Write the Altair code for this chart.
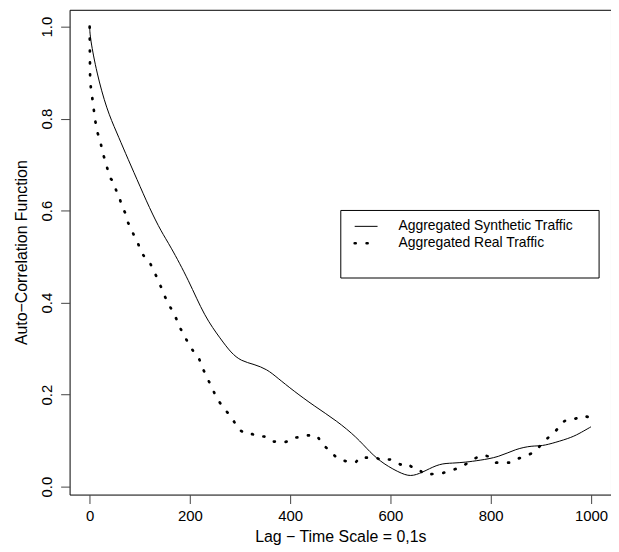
import altair as alt
import pandas as pd

# Synthetic traffic ACF (solid line)
syn_lag = [0, 1, 14, 34, 54, 71, 94, 120, 143, 160, 198, 229, 262, 282, 302, 328, 354, 374,
           407, 447, 493, 533, 559, 585, 625, 645, 671, 698, 724, 750, 777, 816, 850, 883,
           902, 929, 962, 981, 1000]
syn_acf = [1.0, 0.975, 0.90, 0.82, 0.77, 0.726, 0.669, 0.604, 0.554, 0.525, 0.448, 0.37, 0.32,
           0.291, 0.273, 0.266, 0.255, 0.237, 0.208, 0.176, 0.143, 0.107, 0.075, 0.05, 0.026,
           0.022, 0.035, 0.05, 0.051, 0.053, 0.057, 0.064, 0.082, 0.089, 0.088, 0.096, 0.107,
           0.118, 0.130]

# Real traffic ACF (dotted line)
real_lag = [0, 1, 5, 8, 11, 15, 21, 26, 30, 35, 40, 48, 54, 58, 64, 71, 77, 84, 89, 96, 102,
            112, 120, 128, 137, 153, 163, 172, 180, 190, 197, 207, 218, 226, 236, 244, 252,
            263, 275, 286, 297, 312, 325, 335, 348, 358, 366, 376, 386, 394, 405, 414, 422,
            432, 442, 449, 457, 463, 477, 486, 496, 504, 513, 521, 531, 539, 552, 562, 572,
            582, 589, 599, 610, 620, 632, 645, 657, 666, 679, 690, 706, 717, 727, 741, 755,
            770, 784, 798, 811, 826, 840, 850, 863, 877, 887, 898, 907, 917, 927, 937, 945,
            955, 963, 976, 986, 995]
real_acf = [1.0, 0.88, 0.847, 0.822, 0.797, 0.772, 0.752, 0.726, 0.712, 0.693, 0.672, 0.662,
            0.64, 0.635, 0.61, 0.595, 0.573, 0.557, 0.545, 0.53, 0.513, 0.494, 0.487, 0.469,
            0.448, 0.406, 0.386, 0.367, 0.346, 0.326, 0.311, 0.294, 0.279, 0.256, 0.233,
            0.215, 0.196, 0.177, 0.161, 0.145, 0.125, 0.114, 0.114, 0.109, 0.109, 0.105,
            0.098, 0.098, 0.096, 0.098, 0.106, 0.107, 0.107, 0.111, 0.112, 0.113, 0.105,
            0.093, 0.08, 0.07, 0.06, 0.057, 0.055, 0.053, 0.053, 0.064, 0.063, 0.063, 0.063,
            0.057, 0.059, 0.059, 0.053, 0.048, 0.051, 0.041, 0.038, 0.027, 0.027, 0.028,
            0.03, 0.034, 0.037, 0.043, 0.052, 0.062, 0.069, 0.065, 0.052, 0.052, 0.052,
            0.059, 0.064, 0.07, 0.075, 0.088, 0.098, 0.109, 0.118, 0.13, 0.141, 0.147,
            0.147, 0.149, 0.154, 0.151]

x_ticks = [0, 200, 400, 600, 800, 1000]
y_ticks = [0.0, 0.2, 0.4, 0.6, 0.8, 1.0]
legend_labels = ["Aggregated Synthetic Traffic", "Aggregated Real Traffic"]

FONT = "Liberation Sans"
DOT_DASH = [1, 11]
DOT_W = 2.7

syn_df = pd.DataFrame({"lag": syn_lag, "acf": syn_acf})
real_df = pd.DataFrame({"lag": real_lag, "acf": real_acf})
one = pd.DataFrame({"k": [0]})

x_enc = alt.X("lag:Q", scale=alt.Scale(domain=[-40, 1040], nice=False, zero=False),
              axis=alt.Axis(values=x_ticks, title="Lag \u2212 Time Scale = 0,1s", format="d",
                            labelPadding=5, titlePadding=5))
y_enc = alt.Y("acf:Q", scale=alt.Scale(domain=[-0.0173, 1.0367], nice=False, zero=False),
              axis=alt.Axis(values=y_ticks, format=".1f", title="Auto\u2212Correlation Function",
                            labelAngle=270, labelAlign="center", labelBaseline="bottom",
                            labelPadding=6, titlePadding=10))

syn = alt.Chart(syn_df).mark_line(color="black", strokeWidth=1, interpolate="basis").encode(
    x=x_enc, y=y_enc)
real = alt.Chart(real_df).mark_line(color="black", strokeWidth=DOT_W, strokeDash=DOT_DASH,
                                    strokeCap="round").encode(x="lag:Q", y="acf:Q")

box = alt.Chart(one).mark_rect(fill="white", stroke="black", strokeWidth=1).encode(
    x=alt.value(273), x2=alt.value(533), y=alt.value(202), y2=alt.value(270))
leg_solid = alt.Chart(one).mark_rule(color="black", strokeWidth=1).encode(
    x=alt.value(287), x2=alt.value(310), y=alt.value(218))
leg_dot = alt.Chart(one).mark_rule(color="black", strokeWidth=DOT_W, strokeDash=DOT_DASH,
                                   strokeCap="round").encode(
    x=alt.value(287), x2=alt.value(311), y=alt.value(235))
leg_t1 = alt.Chart(one).mark_text(text=legend_labels[0], align="left", baseline="middle",
                                  font=FONT, fontSize=14, color="black").encode(
    x=alt.value(331), y=alt.value(218))
leg_t2 = alt.Chart(one).mark_text(text=legend_labels[1], align="left", baseline="middle",
                                  font=FONT, fontSize=14, color="black").encode(
    x=alt.value(331), y=alt.value(235))

chart = alt.layer(syn, real, box, leg_solid, leg_dot, leg_t1, leg_t2).properties(
    width=545, height=488,
    autosize=alt.AutoSizeParams(type="none"),
    padding={"left": 62, "top": 0, "right": 0, "bottom": 54},
    background="white",
).configure_view(stroke="black", strokeWidth=1).configure_axis(
    grid=False, domain=False, tickColor="#444", tickSize=9, tickWidth=1,
    labelFont=FONT, labelFontSize=15, labelColor="black",
    titleFont=FONT, titleFontSize=16, titleFontWeight="normal", titleColor="black",
)

chart.save("out.html", embed_options={"renderer": "svg", "actions": False})
